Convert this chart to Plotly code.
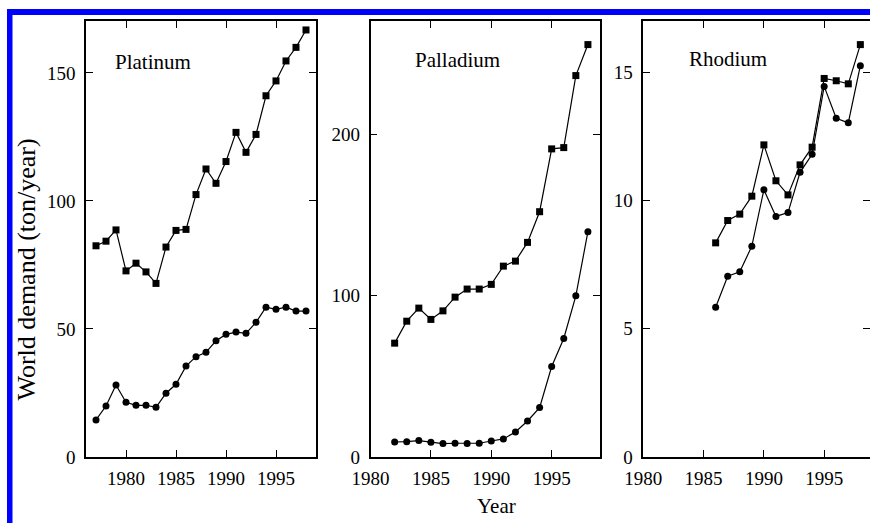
import plotly.graph_objects as go

# ---- data ----
years_pt = [1977, 1978, 1979, 1980, 1981, 1982, 1983, 1984, 1985, 1986, 1987,
            1988, 1989, 1990, 1991, 1992, 1993, 1994, 1995, 1996, 1997, 1998]
pt_total = [82.5, 84.3, 88.7, 72.7, 75.7, 72.3, 67.8, 82.0, 88.5, 88.9, 102.5,
            112.5, 106.9, 115.4, 126.8, 119.0, 126.0, 141.1, 146.9, 154.7, 160.0, 166.8]
pt_auto = [14.5, 19.9, 28.1, 21.4, 20.2, 20.2, 19.4, 24.9, 28.4, 35.5, 39.2,
           40.9, 45.4, 47.9, 48.8, 48.3, 52.6, 58.5, 57.7, 58.5, 57.0, 57.0]

years_pd = [1982, 1983, 1984, 1985, 1986, 1987, 1988, 1989, 1990, 1991, 1992,
            1993, 1994, 1995, 1996, 1997, 1998]
pd_total = [70.5, 84.1, 92.2, 85.2, 90.5, 99.0, 104.0, 104.0, 106.9, 118.2, 121.3,
            132.9, 151.9, 190.8, 191.6, 236.2, 255.4]
pd_auto = [9.3, 9.5, 10.2, 9.1, 8.3, 8.5, 8.3, 8.5, 9.9, 11.2, 15.5,
           22.3, 30.6, 56.0, 73.4, 99.8, 139.5]

years_rh = [1986, 1987, 1988, 1989, 1990, 1991, 1992, 1993, 1994, 1995, 1996, 1997, 1998]
rh_total = [8.35, 9.22, 9.47, 10.17, 12.17, 10.77, 10.22, 11.39, 12.08, 14.76, 14.67, 14.55, 16.08]
rh_auto = [5.84, 7.05, 7.22, 8.22, 10.42, 9.38, 9.53, 11.10, 11.80, 14.45, 13.21, 13.03, 15.26]

panel_names = ["Platinum", "Palladium", "Rhodium"]
x_ticks = [1980, 1985, 1990, 1995]
y_ticks_pt = [0, 50, 100, 150]
y_ticks_pd = [0, 100, 200]
y_ticks_rh = [0, 5, 10, 15]

W, H = 870, 523
FONT = "Liberation Serif, Times New Roman, serif"

fig = go.Figure()

def add_pair(years, total, auto, xa, ya):
    fig.add_trace(go.Scatter(x=years, y=total, mode="lines+markers", name="Total",
                             line=dict(color="black", width=1.2),
                             marker=dict(symbol="square", size=7, color="black"),
                             xaxis=xa, yaxis=ya, showlegend=False, cliponaxis=False))
    fig.add_trace(go.Scatter(x=years, y=auto, mode="lines+markers", name="Autocatalyst",
                             line=dict(color="black", width=1.2),
                             marker=dict(symbol="circle", size=7, color="black"),
                             xaxis=xa, yaxis=ya, showlegend=False, cliponaxis=False))

add_pair(years_pt, pt_total, pt_auto, "x", "y")
add_pair(years_pd, pd_total, pd_auto, "x2", "y2")
add_pair(years_rh, rh_total, rh_auto, "x3", "y3")

ydom = [1 - 457 / H, 1 - 21 / H]

def ax_common():
    return dict(showline=True, linecolor="black", linewidth=1.6, mirror="ticks",
                ticks="inside", ticklen=7, tickwidth=1.2, tickcolor="black",
                showgrid=False, zeroline=False, automargin=False,
                tickfont=dict(family=FONT, size=19, color="black"))

layout = dict(
    width=W, height=H,
    margin=dict(l=0, r=0, t=0, b=0),
    paper_bgcolor="white", plot_bgcolor="white",
    showlegend=False,
    template="none",
)

xdoms = [[86 / W, 316 / W], [370.5 / W, 600 / W], [643.3 / W, 1.0]]
xranges = [[1976, 1999], [1980, 1999], [1980, 1998.8]]
yranges = [[0, 170.3], [0, 270], [0, 17]]
yticks = [y_ticks_pt, y_ticks_pd, y_ticks_rh]

for i in range(3):
    sx = "" if i == 0 else str(i + 1)
    xa = ax_common()
    xa.update(domain=xdoms[i], range=xranges[i], tickvals=x_ticks,
              anchor="y" + sx, ticklabelstandoff=3)
    ya = ax_common()
    ya.update(domain=ydom, range=yranges[i], tickvals=yticks[i],
              anchor="x" + sx, ticklabelstandoff=5)
    layout["xaxis" + sx] = xa
    layout["yaxis" + sx] = ya

fig.update_layout(**layout)

# panel titles
title_pos = [(152.5, 62), (457.5, 60), (728, 59)]
for name, (px, py) in zip(panel_names, title_pos):
    fig.add_annotation(text=name, x=px / W, y=1 - py / H, xref="paper", yref="paper",
                       showarrow=False, xanchor="center", yanchor="middle",
                       font=dict(family=FONT, size=21, color="black"))

# axis titles
fig.add_annotation(text="World demand (ton/year)", x=26 / W, y=1 - 269.5 / H,
                   xref="paper", yref="paper", showarrow=False, textangle=-90,
                   xanchor="center", yanchor="middle",
                   font=dict(family=FONT, size=26, color="black"))
fig.add_annotation(text="Year", x=497 / W, y=1 - 506 / H,
                   xref="paper", yref="paper", showarrow=False,
                   xanchor="center", yanchor="middle",
                   font=dict(family=FONT, size=21, color="black"))

# blue border (top and left bars)
fig.add_shape(type="rect", xref="paper", yref="paper",
              x0=7 / W, x1=1.0, y0=1 - 15 / H, y1=1 - 9 / H,
              fillcolor="#0000ff", line=dict(width=0), layer="above")
fig.add_shape(type="rect", xref="paper", yref="paper",
              x0=7 / W, x1=12.5 / W, y0=0, y1=1 - 9 / H,
              fillcolor="#0000ff", line=dict(width=0), layer="above")

fig.write_html("out.html", config={"displayModeBar": False},
               post_script="document.body.style.margin='0';document.body.style.overflow='hidden';")
